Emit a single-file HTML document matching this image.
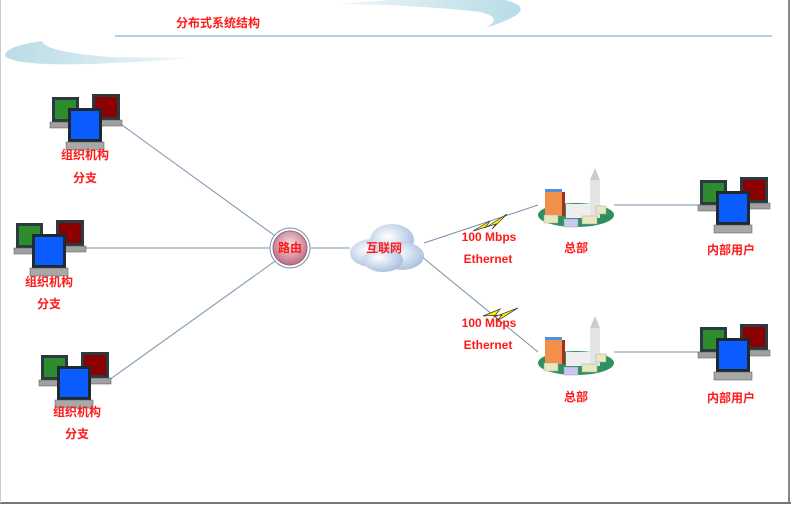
<!DOCTYPE html>
<html><head><meta charset="utf-8"><style>
html,body{margin:0;padding:0;background:#fff;}
svg{display:block;}
text{font-family:"Liberation Sans","Noto Sans CJK SC",sans-serif;font-weight:bold;fill:#ff1a1a;font-size:12px;text-anchor:middle;}
</style></head><body>
<svg width="791" height="506" viewBox="0 0 791 506" xmlns="http://www.w3.org/2000/svg">
<defs>
<linearGradient id="sw" x1="0" x2="1"><stop offset="0" stop-color="#b8dce6"/><stop offset="1" stop-color="#eef7f9"/></linearGradient>
<linearGradient id="sw2" x1="0" x2="1"><stop offset="0" stop-color="#eef7f9"/><stop offset="1" stop-color="#b8dce6"/></linearGradient>
<radialGradient id="rt" cx="0.5" cy="0.4" r="0.6"><stop offset="0" stop-color="#f7e0e6"/><stop offset="1" stop-color="#c06a80"/></radialGradient>
<radialGradient id="cl" cx="0.4" cy="0.4" r="0.7"><stop offset="0" stop-color="#ffffff"/><stop offset="1" stop-color="#9fbadc"/></radialGradient>
<g id="pc">
<rect x="0" y="3" width="27" height="25" fill="#2b3a40"/><rect x="3" y="6" width="21" height="19" fill="#2e8b2e"/>
<rect x="-2" y="28" width="32" height="6" fill="#a0a0a0" stroke="#555" stroke-width="0.5"/>
<rect x="40" y="0" width="28" height="26" fill="#2b3a40"/><rect x="43" y="3" width="22" height="20" fill="#8b0000"/>
<rect x="38" y="26" width="32" height="6" fill="#a0a0a0" stroke="#555" stroke-width="0.5"/>
<rect x="16" y="14" width="34" height="34" fill="#1e2a30"/><rect x="19" y="17" width="28" height="28" fill="#0a5cff"/>
<rect x="14" y="48" width="38" height="8" fill="#a8a8a8" stroke="#555" stroke-width="0.5"/>
</g>
<g id="bd">
<ellipse cx="0" cy="5" rx="38" ry="12" fill="#2e9060"/>
<rect x="-31" y="-18" width="17" height="24" fill="#f0904a"/><rect x="-14" y="-18" width="3" height="24" fill="#a03020"/>
<rect x="-31" y="-21" width="17" height="3" fill="#5090e0"/>
<rect x="-10" y="-6" width="30" height="14" fill="#eee"/>
<rect x="14" y="-30" width="10" height="38" fill="#e4e4e4"/><polygon points="14,-30 19,-42 24,-30" fill="#ccc"/>
<rect x="-32" y="5" width="14" height="8" fill="#e8e8c0" stroke="#aa9" stroke-width="0.5"/>
<rect x="-12" y="9" width="14" height="8" fill="#c8c8f0" stroke="#99a" stroke-width="0.5"/>
<rect x="6" y="6" width="15" height="8" fill="#e8e8c0" stroke="#aa9" stroke-width="0.5"/>
<rect x="20" y="-4" width="10" height="8" fill="#e8e8c0" stroke="#aa9" stroke-width="0.5"/>
</g>
</defs>
<rect x="0" y="0" width="788" height="503" fill="#fff"/>
<line x1="789" y1="0" x2="789" y2="504" stroke="#888" stroke-width="2"/>
<line x1="0" y1="503" x2="791" y2="503" stroke="#777" stroke-width="2"/>
<line x1="0.5" y1="0" x2="0.5" y2="503" stroke="#ccc"/>
<path d="M338,4 Q420,-4 505,0 Q530,6 515,16 Q500,24 485,28 Q505,18 480,12 Q420,5 338,4Z" fill="url(#sw2)"/>
<path d="M42,41 Q5,46 5,56 Q15,66 90,64 Q150,62 190,58 L110,57 Q45,52 42,41Z" fill="url(#sw)"/>
<line x1="115" y1="36" x2="772" y2="36" stroke="#8cc8d4" stroke-width="1.5"/>
<text x="218" y="27" font-size="12">分布式系统结构</text>
<g stroke="#7890a8" stroke-width="1" fill="none">
<line x1="115" y1="120" x2="278" y2="238"/>
<line x1="84" y1="248" x2="271" y2="248"/>
<line x1="109" y1="380" x2="278" y2="259"/>
<line x1="311" y1="248" x2="350" y2="248"/>
<line x1="424" y1="243" x2="538" y2="205"/>
<line x1="421" y1="256" x2="538" y2="352"/>
<line x1="614" y1="205" x2="700" y2="205"/>
<line x1="614" y1="352" x2="700" y2="352"/>
</g>
<use href="#pc" x="52" y="94"/>
<use href="#pc" x="16" y="220"/>
<use href="#pc" x="41" y="352"/>
<use href="#pc" x="700" y="177"/>
<use href="#pc" x="700" y="324"/>
<text x="85" y="159">组织机构</text><text x="85" y="182">分支</text>
<text x="49" y="286">组织机构</text><text x="49" y="308">分支</text>
<text x="77" y="416">组织机构</text><text x="77" y="438">分支</text>
<text x="731" y="254">内部用户</text><text x="731" y="402">内部用户</text>
<circle cx="290" cy="248" r="20" fill="#fff" stroke="#8090b0" stroke-width="1"/>
<circle cx="290" cy="248" r="17" fill="url(#rt)" stroke="#8a6a80" stroke-width="1"/>
<text x="290" y="252">路由</text>
<g fill="url(#cl)">
<ellipse cx="372" cy="253" rx="22" ry="14"/><ellipse cx="392" cy="240" rx="22" ry="16"/>
<ellipse cx="402" cy="256" rx="22" ry="14"/><ellipse cx="383" cy="260" rx="20" ry="12"/>
</g>
<text x="384" y="252">互联网</text>
<use href="#bd" x="576" y="210"/>
<use href="#bd" x="576" y="358"/>
<text x="576" y="252">总部</text><text x="576" y="401">总部</text>
<polygon points="473,231 490,221 485,228 507,214 492,229 496,224" fill="#ffee00" stroke="#333" stroke-width="0.7"/>
<polygon points="483,316 500,309 494,317 518,308 497,321 502,315" fill="#ffee00" stroke="#333" stroke-width="0.7"/>
<text x="489" y="241" font-size="13">100 Mbps</text><text x="488" y="263" font-size="13">Ethernet</text>
<text x="489" y="327" font-size="13">100 Mbps</text><text x="488" y="349" font-size="13">Ethernet</text>
</svg>
</body></html>
